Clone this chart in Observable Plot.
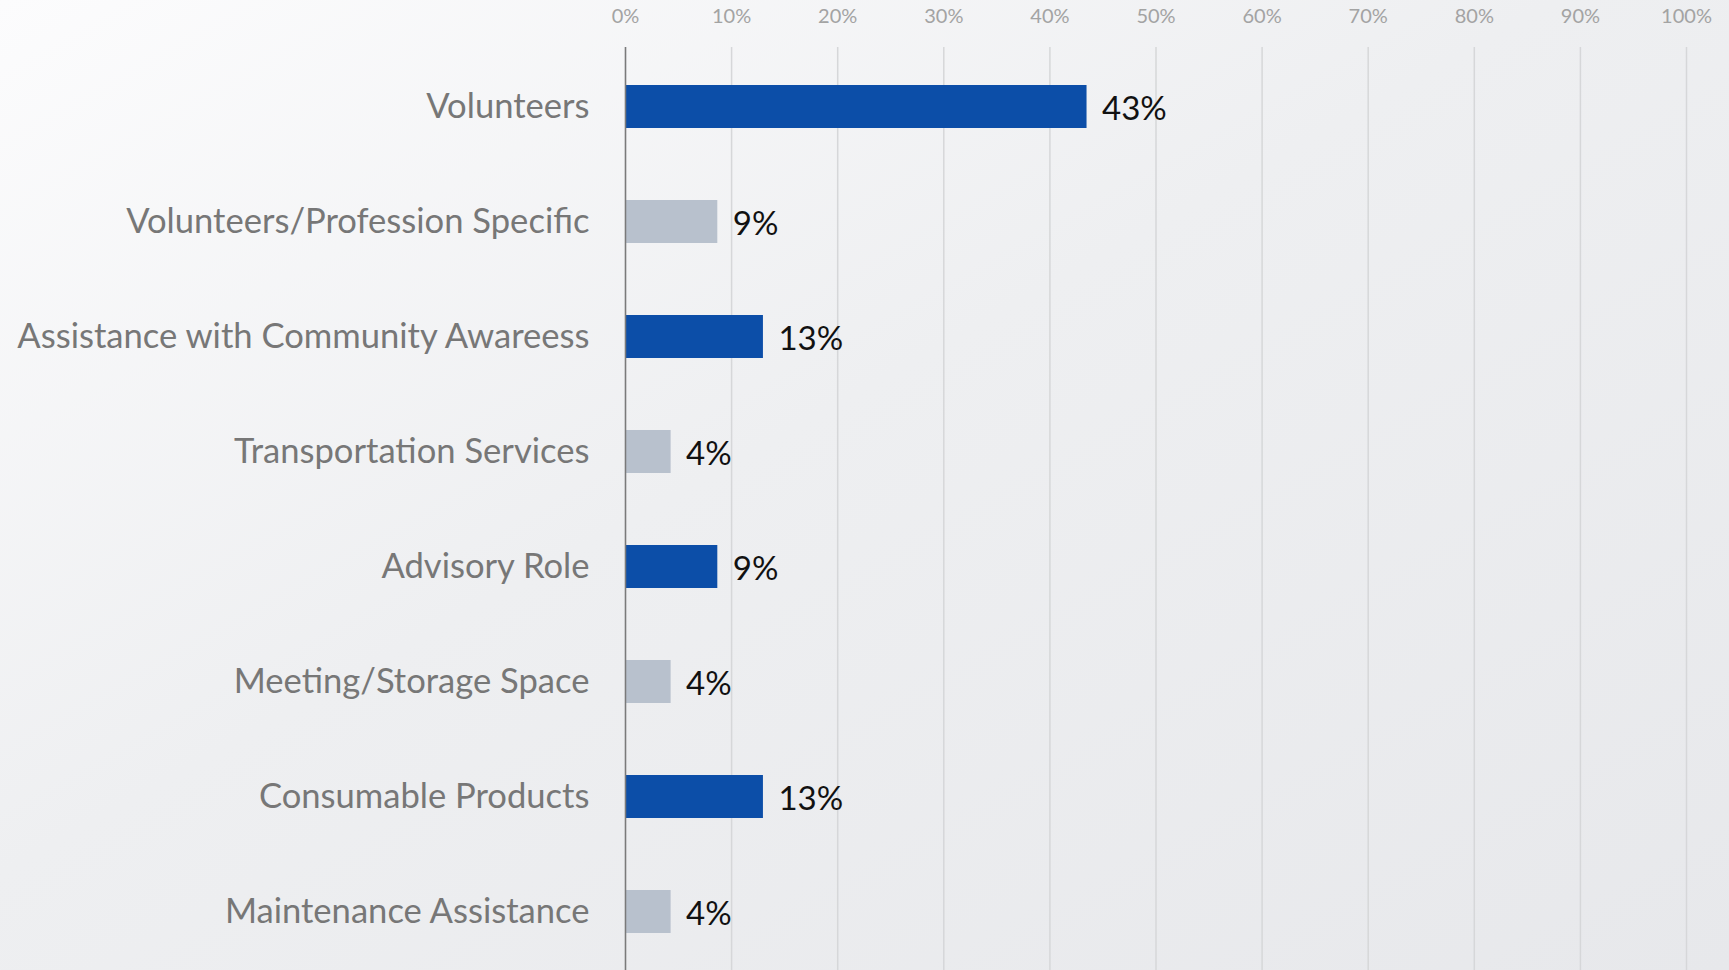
<!DOCTYPE html>
<html>
<head>
<meta charset="utf-8">
<script src="https://cdn.jsdelivr.net/npm/d3@7"></script>
<script src="https://cdn.jsdelivr.net/npm/@observablehq/plot@0.6"></script>
<style>
  html, body { margin: 0; padding: 0; }
  body {
    width: 1729px; height: 970px; overflow: hidden;
    background: linear-gradient(to bottom right, #fcfcfd 0%, #eeeff1 45%, #e7e8eb 100%);
  }
  #chart svg { display: block; }
</style>
</head>
<body>
<div id="chart"></div>
<script>
const categories = [
  "Volunteers",
  "Volunteers/Profession Specific",
  "Assistance with Community Awareess",
  "Transportation Services",
  "Advisory Role",
  "Meeting/Storage Space",
  "Consumable Products",
  "Maintenance Assistance"
];
const values = [43.5, 8.7, 13.0, 4.3, 8.7, 4.3, 13.0, 4.3];
const valueLabels = ["43%", "9%", "13%", "4%", "9%", "4%", "13%", "4%"];
const groups = ["primary", "secondary", "primary", "secondary", "primary", "secondary", "primary", "secondary"];
const xTicks = [0, 10, 20, 30, 40, 50, 60, 70, 80, 90, 100];

const data = categories.map((c, i) => ({category: c, value: values[i], label: valueLabels[i], group: groups[i]}));

const chart = Plot.plot({
  width: 1729,
  height: 970,
  marginLeft: 625,
  marginRight: 43,
  marginTop: 47,
  marginBottom: 0,
  style: {background: "transparent", fontFamily: "Lato"},
  x: {domain: [0, 100], axis: null, label: null},
  y: {domain: categories, paddingInner: 0.63, paddingOuter: 0.315, axis: null, label: null},
  color: {domain: ["primary", "secondary"], range: ["#0c4ea8", "#b8c1cd"]},
  marks: [
    Plot.gridX(xTicks, {stroke: "#d6d7d9", strokeOpacity: 1, strokeWidth: 1.5}),
    Plot.axisX(xTicks, {anchor: "top", label: null, tickSize: 0, tickPadding: 25, tickFormat: d => d + "%", fontSize: 20, fill: "#a3a3a3"}),
    Plot.axisY({label: null, tickSize: 0, tickPadding: 36, fontSize: 34.6, fill: "#777777"}),
    Plot.barX(data, {x: "value", y: "category", fill: "group"}),
    Plot.ruleX([0], {stroke: "#7a7a7a", strokeWidth: 1.5}),
    Plot.text(data, {x: "value", y: "category", text: "label", dx: 15, dy: 2, textAnchor: "start", fontSize: 33, fill: "#111111"})
  ]
});
document.getElementById("chart").appendChild(chart);
</script>
</body>
</html>
